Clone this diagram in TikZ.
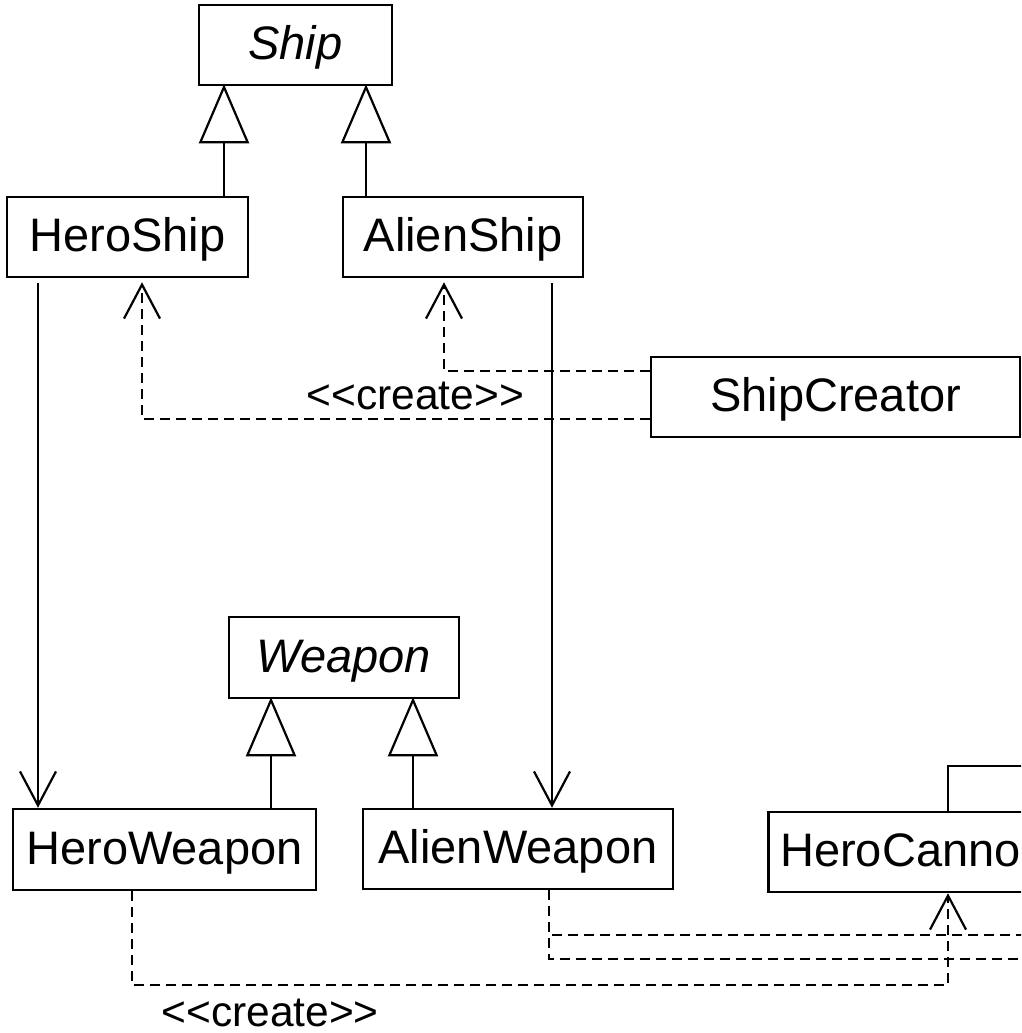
\documentclass[tikz,border=0pt]{standalone}
\usepackage{fontspec}
\setmainfont{Liberation Sans}[Ligatures=TeXOff]
\usetikzlibrary{arrows.meta}
\begin{document}
\begin{tikzpicture}[x=1pt,y=-1pt,
  cls/.style={draw, line width=2.5pt, minimum height=80pt, inner sep=0pt,
    text height=34pt, text depth=5pt, fill=white,
    font=\fontsize{47}{56}\selectfont},
  abstractcls/.style={cls, font=\fontsize{47}{56}\selectfont\itshape},
  gen/.style={line width=2.2pt, line join=miter, shorten >=-2pt,
    -{Triangle[open, length=59pt, width=50pt]}},
  assoc/.style={line width=2.2pt, -{Straight Barb[length=34pt, width=36pt]}},
  depline/.style={line width=2.2pt, dash pattern=on 10pt off 6pt},
  dep/.style={depline, -{Straight Barb[length=34pt, width=36pt]}},
  lbl/.style={inner sep=0pt, font=\fontsize{42.5}{50}\selectfont}]

\useasboundingbox (0,0) rectangle (1021,1033);
\clip (0,0) rectangle (1021,1033);

% classes
\node[abstractcls, minimum width=193pt] (ship) at (295.5,45) {Ship};
\node[cls, minimum width=241pt] (heroship) at (127.5,237) {HeroShip};
\node[cls, minimum width=240pt] (alienship) at (463,237) {AlienShip};
\node[cls, minimum width=369pt] (creator) at (835.5,397) {ShipCreator};
\node[abstractcls, minimum width=230pt, minimum height=81pt] (weapon) at (344,657.5) {Weapon};
\node[cls, minimum width=303pt, minimum height=81pt] (heroweapon) at (164.5,849.5) {HeroWeapon};
\node[cls, minimum width=310pt] (alienweapon) at (518,849) {AlienWeapon};
\node[cls, anchor=west, inner xsep=12pt] (herocannon) at (767,852) {HeroCannon};

% ends of connectors leaving the frame
\coordinate (genout) at (1100,766);
\coordinate (awout1) at (1100,935);
\coordinate (awout2) at (1100,959);

% generalizations
\draw[gen] ([xshift=96.5pt]heroship.north) -- ([xshift=96.5pt]heroship.north |- ship.south);
\draw[gen] ([xshift=-97pt]alienship.north) -- ([xshift=-97pt]alienship.north |- ship.south);
\draw[gen] ([xshift=106.5pt]heroweapon.north) -- ([xshift=106.5pt]heroweapon.north |- weapon.south);
\draw[gen] ([xshift=-105pt]alienweapon.north) -- ([xshift=-105pt]alienweapon.north |- weapon.south);
\draw[line width=2.2pt] ([xshift=181pt]herocannon.north west) |- (genout);

% associations
\draw[assoc, shorten <=5pt] ([xshift=-89.5pt]heroship.south) -- ([xshift=-89.5pt]heroship.south |- heroweapon.north);
\draw[assoc, shorten <=5pt] ([xshift=89pt]alienship.south) -- ([xshift=89pt]alienship.south |- alienweapon.north);

% creation dependencies
\draw[dep, shorten >=4pt] ([yshift=-22pt]creator.west) -| ([xshift=14.5pt]heroship.south)
  node[lbl, pos=0.231, above=8pt] {<<create>>};
\draw[dep, shorten >=4pt] ([yshift=26pt]creator.west) -| ([xshift=-19pt]alienship.south);
\draw[dep] ([xshift=-32.5pt]heroweapon.south) -- ++(0,94) -| ([xshift=181pt]herocannon.south west)
  node[lbl, pos=0.0846, below=13pt] {<<create>>};
\draw[depline] ([xshift=31pt]alienweapon.south) |- (awout1);
\draw[depline] ([xshift=31pt]alienweapon.south) |- (awout2);
\end{tikzpicture}
\end{document}
